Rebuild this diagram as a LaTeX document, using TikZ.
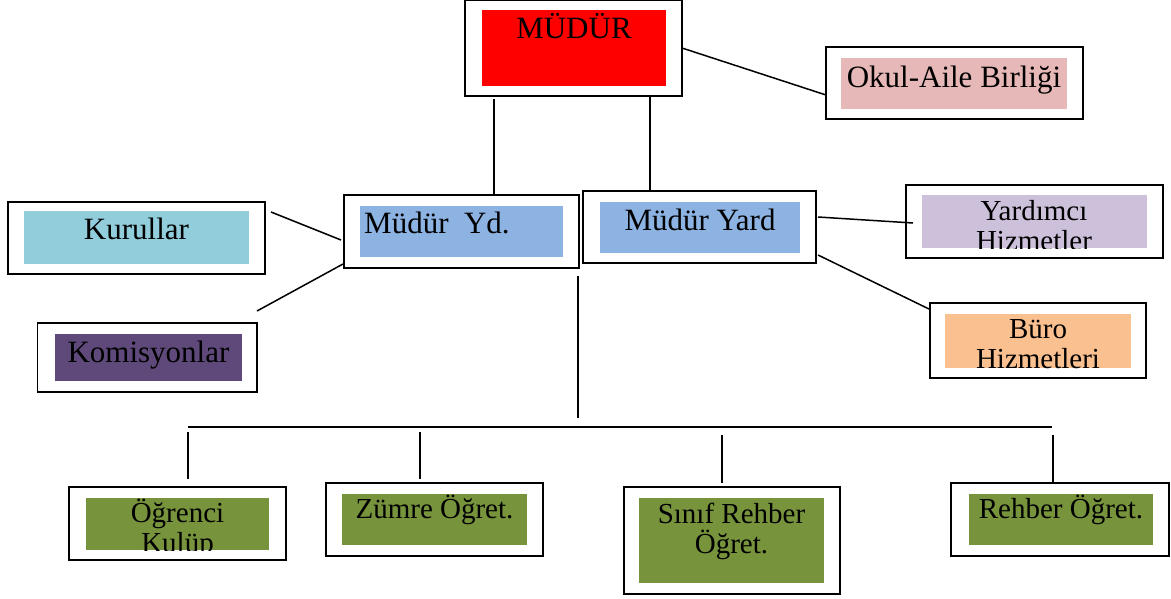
\documentclass[tikz,border=0pt]{standalone}
\usepackage{fontspec}
\setmainfont{Liberation Serif}
\definecolor{mudurred}{HTML}{FF0000}
\definecolor{okulpink}{HTML}{E6B8B7}
\definecolor{ydblue}{HTML}{8DB3E2}
\definecolor{kurulcyan}{HTML}{92CDDC}
\definecolor{komispurple}{HTML}{5F497A}
\definecolor{yardlilac}{HTML}{CCC0DA}
\definecolor{buroorange}{HTML}{FAC090}
\definecolor{ogretgreen}{HTML}{77933C}

\begin{document}
\begin{tikzpicture}[x=1pt, y=-1pt,
	outbox/.style={draw, line width=1.8pt, fill=white, inner sep=0pt, outer sep=0pt},
	inbox/.style={inner sep=0pt},
	bigtxt/.style={inner sep=0pt, anchor=base, font=\fontsize{31}{31}\selectfont},
	smalltxt/.style={inner sep=0pt, anchor=base, align=center, font=\fontsize{29}{30}\selectfont},
	link/.style={line width=1.5pt}]
				\useasboundingbox[fill=white] (0, 0) rectangle (1171, 598);
				% top level
				\node[outbox, minimum width=217, minimum height=96] (mudur)at(573.5, 48) {};
				\node[inbox, fill=mudurred, minimum width=184, minimum height=76] (mudurin)at(574, 48) {};
				\node[bigtxt] (mudurtxt)at(574, 38) {MÜDÜR};
				\node[outbox, minimum width=257, minimum height=72] (okul)at(954.5, 83) {};
				\node[inbox, fill=okulpink, minimum width=226, minimum height=51] (okulin)at(954, 83.5) {};
				\node[bigtxt] (okultxt)at(954, 87) {Okul-Aile Birliği};
				% middle level
				\node[outbox, minimum width=257, minimum height=72] (kurullar)at(136.5, 238) {};
				\node[inbox, fill=kurulcyan, minimum width=225, minimum height=53] (kurullarin)at(136.5, 237.5) {};
				\node[bigtxt] (kurullartxt)at(136.5, 239) {Kurullar};
				\node[outbox, minimum width=235, minimum height=73] (mudyd)at(461.5, 231.5) {};
				\node[inbox, fill=ydblue, minimum width=203, minimum height=51] (mudydin)at(461.5, 231.5) {};
				\node[bigtxt, anchor=base west] (mudydtxt)at(364, 233) {Müdür\ \ Yd.};
				\node[outbox, minimum width=219.5, minimum height=69] (komisyon)at(147.25, 357.5) {};
				\node[inbox, fill=komispurple, minimum width=187, minimum height=47] (komisyonin)at(148.5, 357.5) {};
				\node[bigtxt] (komisyontxt)at(148.5, 362) {Komisyonlar};
				\node[outbox, minimum width=233, minimum height=72] (mudyard)at(699.5, 227) {};
				\node[inbox, fill=ydblue, minimum width=200, minimum height=51] (mudyardin)at(700, 227.5) {};
				\node[bigtxt] (mudyardtxt)at(700, 230) {Müdür Yard};
				\node[outbox, minimum width=257, minimum height=73] (yardimci)at(1034.5, 221.5) {};
				\node[inbox, fill=yardlilac, minimum width=225, minimum height=53] (yardimciin)at(1034, 221.5) {};
				\begin{scope}
					\clip (yardimciin.south west) rectangle (yardimciin.north east);
					\node[smalltxt] (yardimcitxt)at(1034, 250) {Yardımcı\\Hizmetler};
				\end{scope}
				\node[outbox, minimum width=216, minimum height=75] (buro)at(1038, 340.5) {};
				\node[inbox, fill=buroorange, minimum width=186, minimum height=54] (buroin)at(1038, 341) {};
				\node[smalltxt] (burotxt)at(1038, 368) {Büro\\Hizmetleri};
				% bottom level
				\node[outbox, minimum width=217, minimum height=73] (ogrenci)at(177.5, 523.5) {};
				\node[inbox, fill=ogretgreen, minimum width=183, minimum height=52] (ogrenciin)at(177.5, 524) {};
				\begin{scope}
					\clip (ogrenciin.south west) rectangle (ogrenciin.north east);
					\node[smalltxt] (ogrencitxt)at(177.5, 552) {Öğrenci\\Kulüp};
				\end{scope}
				\node[outbox, minimum width=217, minimum height=73] (zumre)at(434.5, 519.5) {};
				\node[inbox, fill=ogretgreen, minimum width=185, minimum height=51] (zumrein)at(434.5, 519.5) {};
				\node[smalltxt] (zumretxt)at(434.5, 518) {Zümre Öğret.};
				\node[outbox, minimum width=216, minimum height=107] (sinif)at(732, 540.5) {};
				\node[inbox, fill=ogretgreen, minimum width=185, minimum height=85] (sinifin)at(731.5, 540.5) {};
				\node[smalltxt] (siniftxt)at(731.5, 553) {Sınıf Rehber\\Öğret.};
				\node[outbox, minimum width=218, minimum height=73] (rehber)at(1060, 519.5) {};
				\node[inbox, fill=ogretgreen, minimum width=184, minimum height=51] (rehberin)at(1061, 519.5) {};
				\node[smalltxt] (rehbertxt)at(1061, 518) {Rehber Öğret.};
				% connectors
				\coordinate (busup)at(578, 418);
				\coordinate (busl)at(187.5, 427);
				\coordinate (busr)at(1052, 427);
				\draw[link] (mudur.east) -- ([yshift=-12pt]okul.west);
				\draw[link, shorten >=3pt] ([xshift=32.5pt]mudyd.north) -- ([xshift=32.5pt]mudyd.north |- mudur.south);
				\draw[link, shorten >=1pt] ([xshift=-49.5pt]mudyard.north) -- ([xshift=-49.5pt]mudyard.north |- mudur.south);
				\draw[link] ([shift={(6pt, -10pt)}]kurullar.north east) -- ([shift={(-3pt, -8.5pt)}]mudyd.west);
				\draw[link] ([yshift=12pt]komisyon.north east) -- ([shift={(-1pt, 4pt)}]mudyd.south west);
				\draw[link] ([shift={(2pt, 10pt)}]mudyard.east) -- ([shift={(7pt, -1.5pt)}]yardimci.west);
				\draw[link] ([shift={(2pt, 8pt)}]mudyard.south east) -- ([shift={(-1pt, -6pt)}]buro.north west);
				\draw[link] ([shift={(-1pt, -8pt)}]mudyd.south east) -- (busup);
				\draw[link] (busl) -- (busr);
				\draw[link, shorten >=5pt] ([shift={(10.5pt, 8pt)}]ogrenci.north) -- ([xshift=10.5pt]ogrenci.north |- busl);
				\draw[link, shorten >=5pt] ([shift={(-14.5pt, 4pt)}]zumre.north) -- ([xshift=-14.5pt]zumre.north |- busl);
				\draw[link, shorten >=8pt] ([shift={(-10pt, 4pt)}]sinif.north) -- ([xshift=-10pt]sinif.north |- busl);
				\draw[link, shorten >=8pt] ([xshift=-7pt]rehber.north) -- ([xshift=-7pt]rehber.north |- busl);
			\end{tikzpicture}
\end{document}
